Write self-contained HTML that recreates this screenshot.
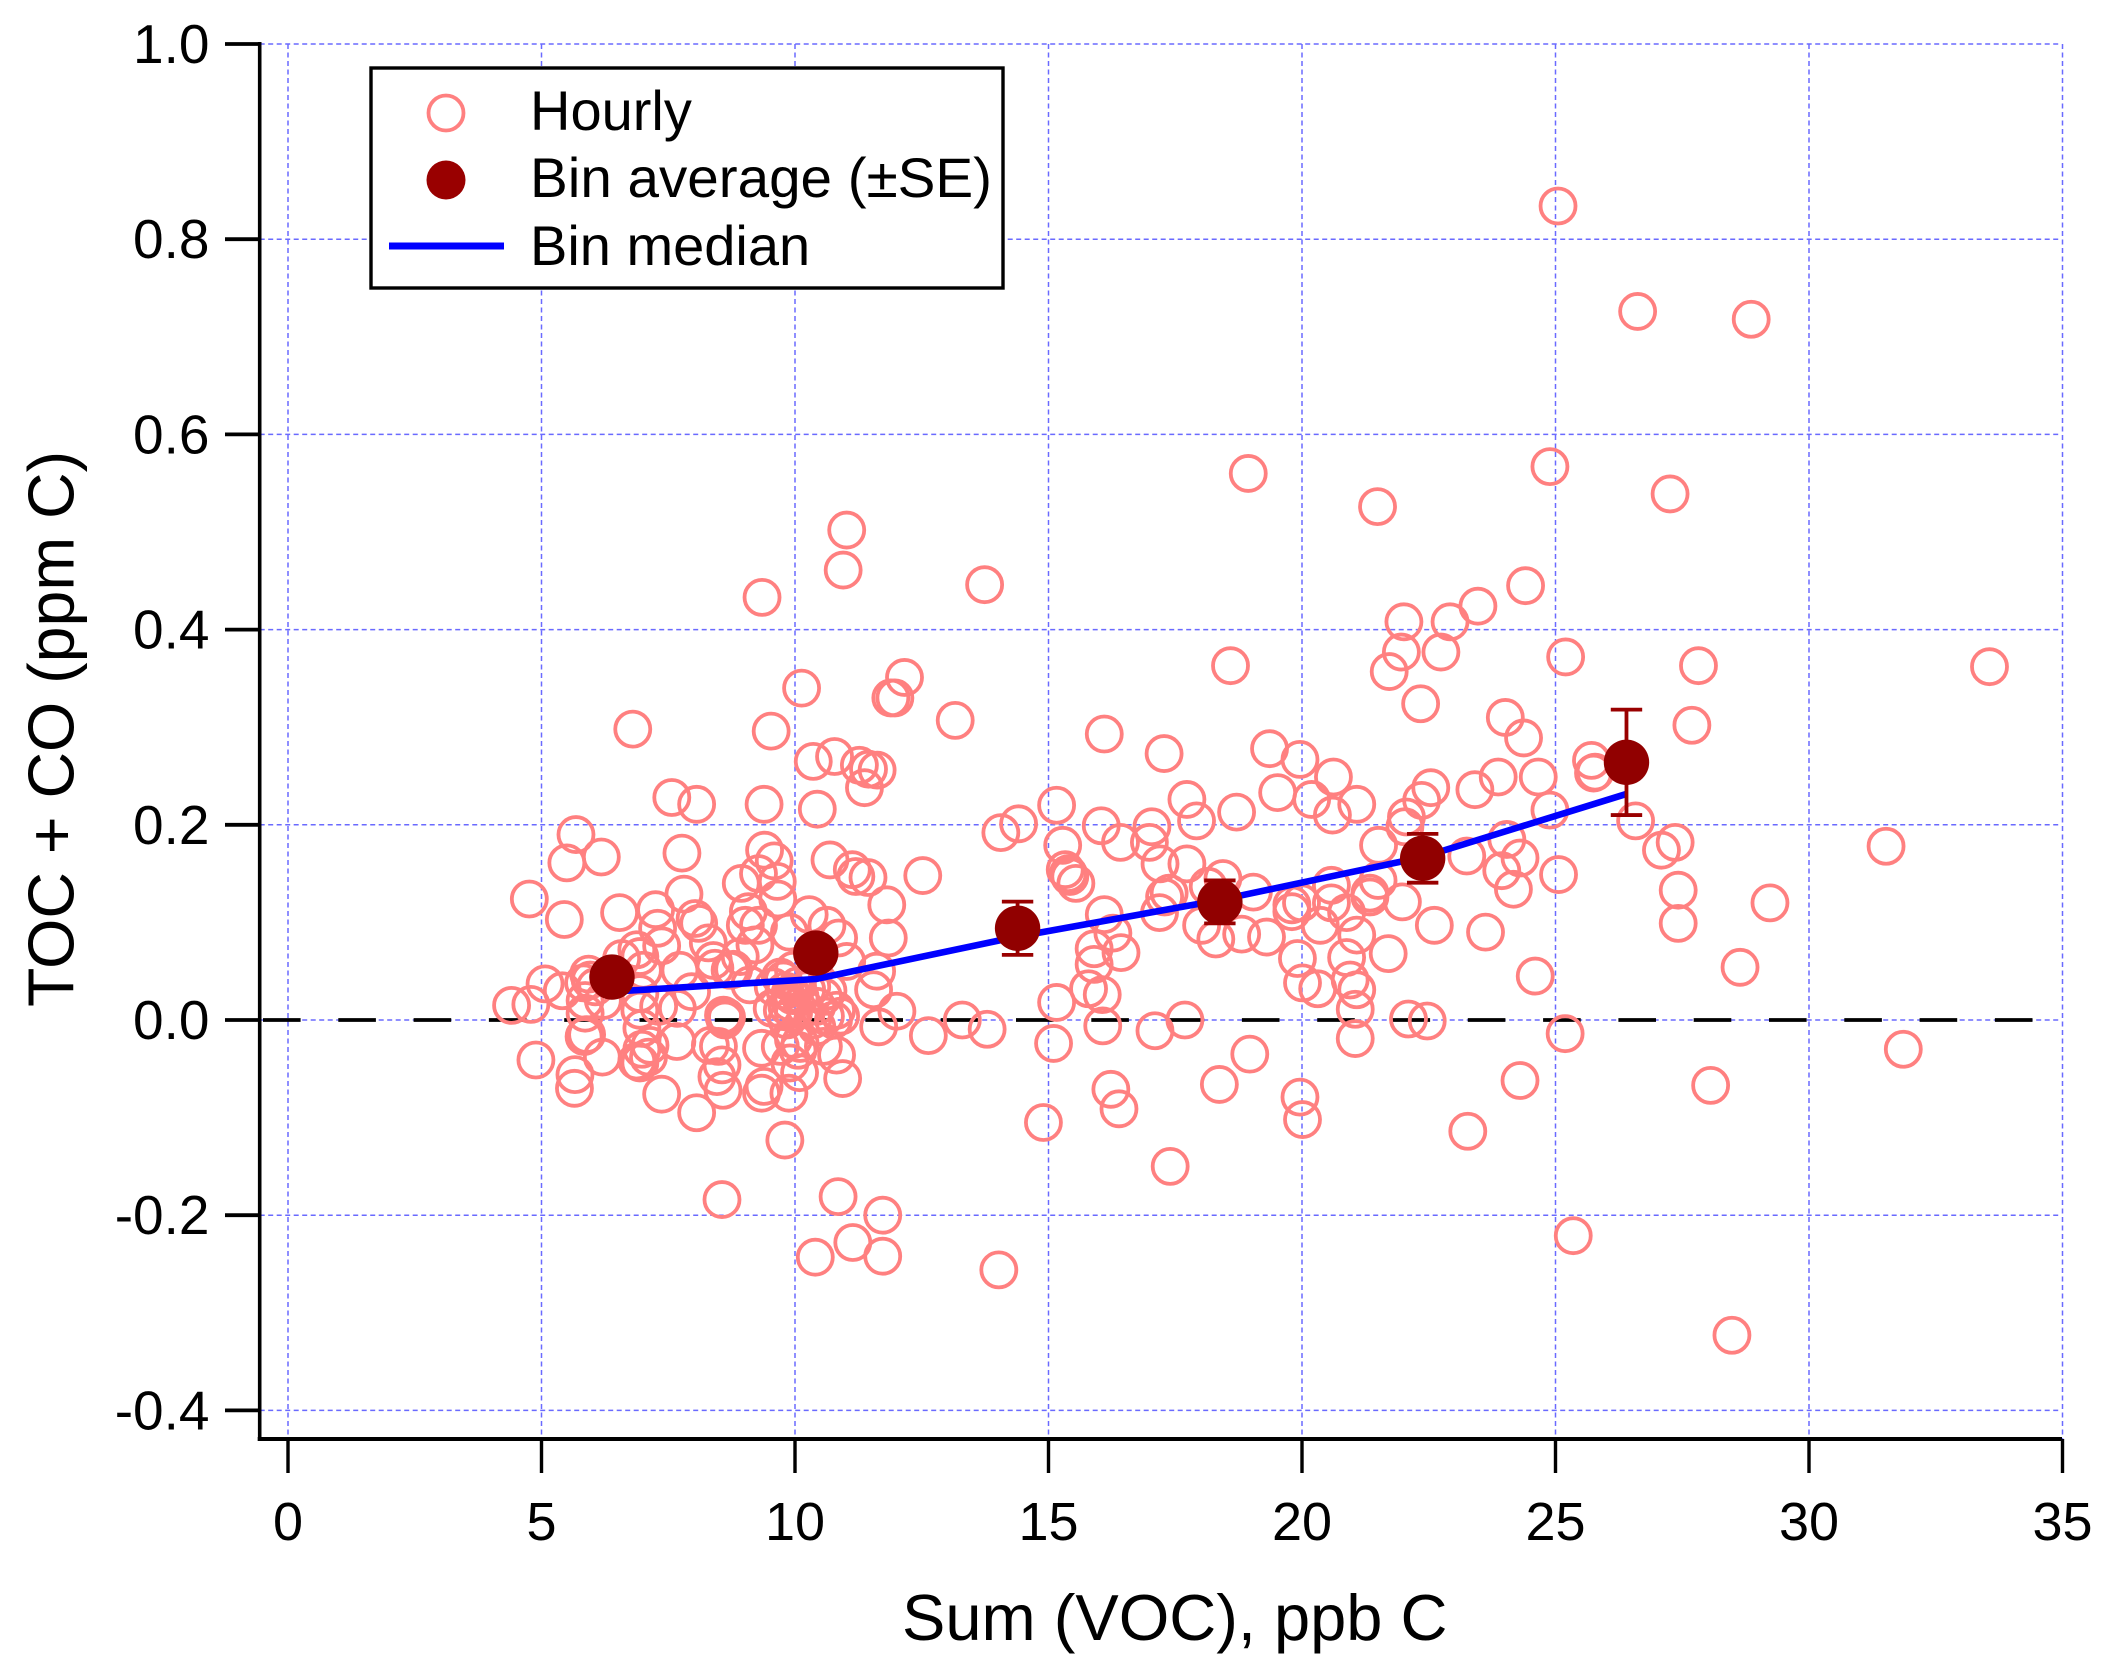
<!DOCTYPE html>
<html lang="en">
<head>
<meta charset="utf-8">
<title>TOC + CO vs Sum (VOC)</title>
<style>
html,body{margin:0;padding:0;background:#fff;}
svg{display:block;font-family:"Liberation Sans",Arial,sans-serif;}
</style>
</head>
<body>
<svg id="chart" xmlns="http://www.w3.org/2000/svg" width="2114" height="1677" viewBox="0 0 2114 1677">
  <rect x="0" y="0" width="2114" height="1677" fill="#ffffff"/>
  <g id="grid"></g>
  <g id="refline"></g>
  <g id="hourly"></g>
  <g id="median"></g>
  <g id="average"></g>
  <g id="axes"></g>
  <text x="902" y="1640" font-size="65" fill="#000">Sum (VOC), ppb C</text>
  <text transform="translate(73.5,729) rotate(-90)" text-anchor="middle" font-size="64.5" fill="#000">TOC + CO (ppm C)</text>
  <g>
    <rect x="371" y="68" width="632" height="220" fill="#ffffff" stroke="#000" stroke-width="3.4"/>
    <circle cx="446" cy="113" r="17.5" fill="none" stroke="#ff8080" stroke-width="3.8"/>
    <text x="530" y="130" font-size="56" fill="#000">Hourly</text>
    <circle cx="446" cy="180" r="19.5" fill="#990000"/>
    <text x="530" y="197" font-size="56" textLength="462" lengthAdjust="spacingAndGlyphs" fill="#000">Bin average (±SE)</text>
    <rect x="389" y="242.5" width="115" height="7" fill="#0000ff"/>
    <text x="530" y="265" font-size="56" fill="#000">Bin median</text>
  </g>
</svg>
<script>
const hourlyX = [
7.57,8.06,9.39,10.44,5.68,5.50,6.18,7.77,9.40,9.59,
10.69,11.13,11.20,11.44,12.52,4.76,5.45,6.54,7.25,7.81,
9.28,8.94,9.65,9.66,9.08,10.28,8.03,8.10,7.29,11.81,
11.84,10.63,10.86,9.02,9.28,9.89,7.37,8.29,6.88,9.21,
6.58,8.92,8.39,8.42,7.01,7.73,11.02,11.61,5.07,5.41,
5.93,5.96,6.94,8.79,9.77,7.96,5.83,6.06,11.55,4.41,
4.79,5.86,6.22,6.94,9.71,9.97,9.11,9.57,9.90,10.23,
10.33,8.72,10.56,12.01,6.94,7.31,7.68,5.86,8.65,8.62,
8.59,9.84,9.97,10.10,10.76,10.43,10.82,9.84,10.43,6.98,
11.65,5.84,5.89,7.67,12.63,9.71,9.97,8.33,8.49,9.34,
10.82,10.56,10.10,7.14,7.11,6.88,6.94,6.20,4.89,5.66,
5.65,7.37,8.06,8.56,8.46,8.58,10.09,9.39,9.34,9.88,
10.94,9.80,10.06,9.90,6.98,9.90,9.55,10.65,9.80,9.95,
10.20,10.05,10.35,10.60,10.90,9.75,
14.41,14.06,15.16,16.04,16.42,15.28,17.04,16.99,17.73,17.92,
18.71,19.52,20.19,20.62,20.60,21.08,17.20,17.73,15.33,15.39,
15.42,15.54,18.44,18.15,19.04,17.29,17.38,17.19,16.10,
16.27,15.90,16.43,15.90,20.58,19.80,19.80,19.99,20.58,20.88,
21.34,21.50,20.36,18.02,18.30,18.81,19.30,21.08,19.91,20.88,
21.70,20.01,20.31,20.95,21.08,21.05,21.05,15.79,16.06,15.16,
16.07,17.10,17.69,15.10,13.79,13.30,18.97,18.37,19.96,20.01,
16.23,16.39,14.90,17.40,
22.54,22.36,22.06,22.03,23.41,23.87,24.66,25.78,24.89,21.51,
26.58,27.36,27.09,23.25,24.04,24.30,23.94,24.17,25.06,21.34,
21.98,22.61,23.62,24.60,27.42,27.42,29.23,28.64,22.10,22.47,
25.19,24.30,28.06,23.27,
11.02,10.95,9.35,13.74,10.13,12.16,11.89,11.97,6.80,9.53,
13.16,10.36,10.78,11.27,11.45,11.62,11.37,
24.41,23.47,22.92,22.01,21.96,22.74,21.72,22.34,25.20,18.59,
24.01,24.37,16.10,17.28,19.36,19.96,25.71,25.75,
25.05,26.62,28.86,18.94,24.89,21.49,27.26,27.82,33.56,27.69,
31.52,31.86,28.48,25.35,14.02,8.56,10.85,11.73,10.40,11.14,
11.73
];
const hourlyY = [
.228,.221,.221,.216,.190,.161,.167,.171,.174,.163,
.164,.154,.147,.146,.148,.124,.103,.110,.113,.129,
.150,.140,.142,.124,.111,.108,.104,.099,.094,.118,
.084,.097,.084,.097,.097,.090,.076,.079,.072,.077,
.063,.065,.061,.053,.051,.051,.060,.050,.037,.030,
.047,.041,.065,.052,.041,.029,.038,.034,.031,.015,
.016,.020,.020,.027,.044,.051,.036,.034,.027,.031,
.034,.051,.024,.009,.010,.014,.012,.007,.003,.000,
.005,.014,.007,.024,.000,.014,.010,.000,-.007,-.0085,
-.007,-.017,-.015,-.022,-.016,-.027,-.020,-.026,-.027,-.029,
-.036,-.027,-.024,-.026,-.038,-.042,-.044,-.038,-.041,-.056,
-.070,-.076,-.095,-.046,-.058,-.072,-.054,-.068,-.075,-.075,
-.060,-.123,-.031,-.044,-.030,.018,.012,.030,.030,.025,
.012,.035,.000,.004,.004,.010,
.201,.192,.220,.199,.182,.179,.198,.182,.226,.204,
.213,.233,.226,.249,.210,.221,.160,.160,.154,.150,
.147,.140,.145,.137,.131,.126,.130,.110,.108,
.089,.073,.069,.057,.138,.118,.111,.120,.120,.110,
.130,.143,.097,.097,.083,.088,.085,.087,.063,.064,
.068,.038,.032,.041,.031,.011,-.019,.032,.026,.018,
-.006,-.011,.000,-.024,-.0095,.000,-.035,-.066,-.079,-.102,
-.071,-.091,-.105,-.150,
.238,.225,.208,.198,.236,.249,.249,.254,.215,.179,
.204,.182,.174,.168,.185,.166,.153,.134,.149,.126,
.121,.097,.090,.045,.133,.099,.120,.054,.001,-.001,
-.014,-.062,-.067,-.114,
.502,.461,.433,.446,.340,.351,.330,.330,.298,.296,
.307,.265,.270,.261,.257,.256,.238,
.445,.424,.408,.408,.377,.377,.357,.324,.372,.363,
.310,.289,.293,.273,.278,.267,.266,.253,
.834,.726,.718,.560,.567,.526,.539,.363,.362,.302,
.178,-.030,-.323,-.221,-.256,-.184,-.181,-.200,-.243,-.228,
-.242
];
const binX = [6.39,10.41,14.39,18.38,22.38,26.40];
const binAverage = [.044,.0686,.094,.121,.1657,.264];
const binSE = [.012,.012,.0273,.022,.025,.054];
const binMedian = [.029,.042,.0854,.123,.167,.2316];
const xTicks = [0,5,10,15,20,25,30,35];
const yTicks = [-0.4,-0.2,0.0,0.2,0.4,0.6,0.8,1.0];
const yTickLabels = ["-0.4","-0.2","0.0","0.2","0.4","0.6","0.8","1.0"];

const SVG_NS = "http://www.w3.org/2000/svg";
const plotLeft = 259.7, plotBottom = 1439, plotTop = 44, plotRight = 2061;
function xAxis(v){ return 288 + v * 50.7; }
function yAxis(v){ return 1020 - v * 976; }
function make(tag, attrs, parent){
  const el = document.createElementNS(SVG_NS, tag);
  for (const k in attrs) el.setAttribute(k, attrs[k]);
  parent.appendChild(el);
  return el;
}
const grid = document.getElementById("grid");
const refGroup = document.getElementById("refline");
const hourly = document.getElementById("hourly");
const median = document.getElementById("median");
const average = document.getElementById("average");
const axes = document.getElementById("axes");
const gridStyle = {stroke:"#6a6aff","stroke-width":1.5,"stroke-dasharray":"5 3.5",fill:"none"};

xTicks.forEach(function(t){
  const el = make("line", Object.assign({x1:xAxis(t),x2:xAxis(t),y1:plotTop,y2:plotBottom}, gridStyle), grid);
  
  
});
yTicks.forEach(function(t){
  const el = make("line", Object.assign({x1:plotLeft,x2:plotRight,y1:yAxis(t),y2:yAxis(t)}, gridStyle), grid);
  
  
});

const zero = make("line", {x1:263,x2:2033,y1:yAxis(0),y2:yAxis(0),stroke:"#000","stroke-width":3.8,"stroke-dasharray":"37.6 37.7"}, refGroup);



hourlyX.forEach(function(x, i){
  const c = make("circle", {cx:xAxis(x),cy:yAxis(hourlyY[i]),r:17.5,fill:"none",stroke:"#ff8080","stroke-width":3.8}, hourly);
  
  
});

const medianPoints = binX.map(function(x, i){ return xAxis(x) + "," + yAxis(binMedian[i]); }).join(" ");
const medianLine = make("polyline", {points:medianPoints,fill:"none",stroke:"#0000ff","stroke-width":6.6,"stroke-linejoin":"round"}, median);



binX.forEach(function(x, i){
  const cx = xAxis(x), hi = yAxis(binAverage[i] + binSE[i]), lo = yAxis(binAverage[i] - binSE[i]);
  const errStyle = {stroke:"#990000","stroke-width":3.8};
  const stem = make("line", Object.assign({x1:cx,x2:cx,y1:hi,y2:lo}, errStyle), average);
  
  
  const capTop = make("line", Object.assign({x1:cx-15.7,x2:cx+15.7,y1:hi,y2:hi}, errStyle), average);
  
  
  const capLow = make("line", Object.assign({x1:cx-15.7,x2:cx+15.7,y1:lo,y2:lo}, errStyle), average);
  
  
  const dot = make("circle", {cx:cx,cy:yAxis(binAverage[i]),r:22.7,fill:"#910000"}, average);
  
  
});

const spineY = make("line", {x1:plotLeft,x2:plotLeft,y1:plotTop-2,y2:plotBottom+2,stroke:"#000","stroke-width":3.6}, axes);


const spineX = make("line", {x1:plotLeft-2,x2:plotRight+1,y1:plotBottom,y2:plotBottom,stroke:"#000","stroke-width":4}, axes);



yTicks.forEach(function(t, i){
  const tick = make("line", {x1:225,x2:plotLeft,y1:yAxis(t),y2:yAxis(t),stroke:"#000","stroke-width":3.8}, axes);
  
  
  const label = make("text", {x:209.5,y:yAxis(t)+19,"text-anchor":"end","font-size":55,fill:"#000"}, axes);
  
  
  label.textContent = yTickLabels[i];
});
xTicks.forEach(function(t){
  const tick = make("line", {x1:xAxis(t),x2:xAxis(t),y1:plotBottom,y2:1473,stroke:"#000","stroke-width":3.4}, axes);
  
  
  const label = make("text", {x:xAxis(t),y:1540,"text-anchor":"middle","font-size":54,fill:"#000"}, axes);
  
  
  label.textContent = String(t);
});
</script>
</body>
</html>
